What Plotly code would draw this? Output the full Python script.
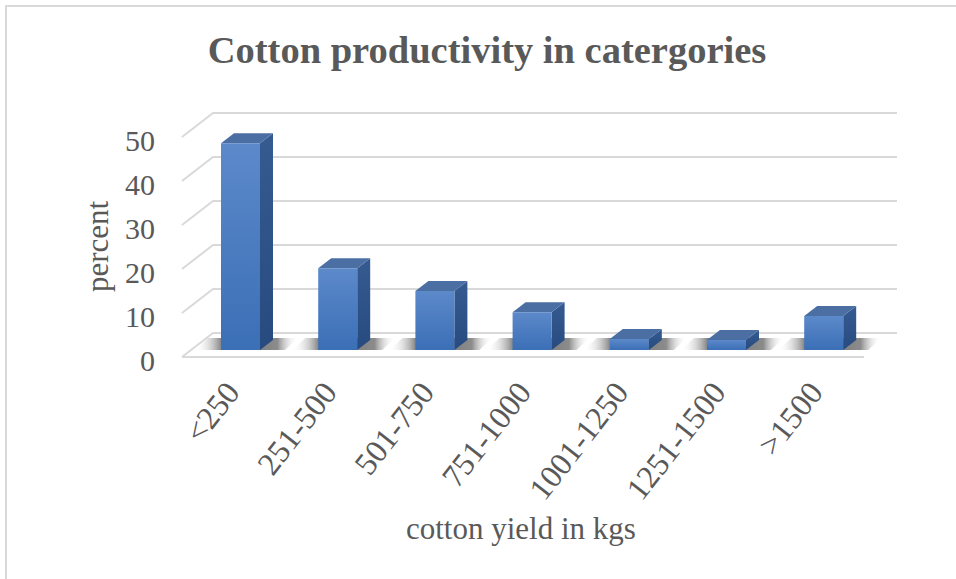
import plotly.graph_objects as go

# ---- data ----
categories = ["<250", "251-500", "501-750", "751-1000", "1001-1250", "1251-1500", ">1500"]
percent = [47.0, 18.6, 13.4, 8.6, 2.5, 2.3, 7.7]
y_ticks = [0, 10, 20, 30, 40, 50]

# ---- page geometry (pixels) ----
W, H = 956, 579
PLOT_L, PLOT_R, PLOT_T, PLOT_B = 175, 905, 100, 365
ZERO_PX = 350          # pixel row of value 0 on the bar plane
PX_PER_UNIT = 4.4      # vertical pixels per percent
X0_PX = 240.5          # pixel column of the first category
PX_PER_CAT = 97.2      # pixels between categories

def dx(px):
    return px / PX_PER_CAT

def dy(px):
    return px / PX_PER_UNIT

x_range = [(PLOT_L - X0_PX) / PX_PER_CAT, (PLOT_R - X0_PX) / PX_PER_CAT]
y_range = [-(PLOT_B - ZERO_PX) / PX_PER_UNIT, (ZERO_PX - PLOT_T) / PX_PER_UNIT]

BAR_W = dx(39)                         # front face width
DEPTH_X, DEPTH_Y = dx(13), dy(10)      # bar depth (oblique projection)
WALL_X, WALL_Y = dx(22), dy(17)        # bar plane -> back wall
FRONT_X, FRONT_Y = dx(-9), dy(-7)      # bar plane -> floor front edge
WALL_LEFT, WALL_RIGHT = dx(213 - X0_PX), dx(897 - X0_PX)
FLOOR_RIGHT = dx(864 - X0_PX)

GRID = "#d9d9d9"
TEXT = "#595959"
FONT = "Liberation Serif, Times New Roman, serif"

fig = go.Figure()

def poly(xs, ys, **kw):
    fig.add_trace(go.Scatter(x=xs + [xs[0]], y=ys + [ys[0]], mode="lines",
                             fill="toself", line=dict(width=0),
                             hoverinfo="skip", showlegend=False, **kw))

def line(xs, ys, width=2):
    fig.add_trace(go.Scatter(x=xs, y=ys, mode="lines",
                             line=dict(color=GRID, width=width),
                             hoverinfo="skip", showlegend=False))

# back-wall gridlines with the oblique side-wall strokes
front_left = WALL_LEFT - WALL_X + FRONT_X
for v in y_ticks:
    line([front_left, WALL_LEFT, WALL_RIGHT],
         [v + FRONT_Y, v + WALL_Y, v + WALL_Y])
# floor front edge
line([front_left, FLOOR_RIGHT], [FRONT_Y, FRONT_Y])

# bars: floor shadow, side face, top face, front face
for i, (cat, v) in enumerate(zip(categories, percent)):
    xl, xr = i - BAR_W / 2, i + BAR_W / 2
    sl, sr = xl - dx(26), xr + DEPTH_X + dx(12)
    poly([sl, sr, sr + DEPTH_X, sl + DEPTH_X], [0, 0, DEPTH_Y + dy(2), DEPTH_Y + dy(2)],
         fillgradient=dict(type="horizontal", colorscale=[
             [0.0, "rgba(255,255,255,0)"],
             [0.28, "rgba(45,45,45,0.7)"],
             [0.8, "rgba(45,45,45,0.55)"],
             [1.0, "rgba(255,255,255,0)"]]))
    # side face
    poly([xr, xr + DEPTH_X, xr + DEPTH_X, xr], [0, DEPTH_Y, v + DEPTH_Y, v],
         fillgradient=dict(type="vertical", start=0, stop=v + DEPTH_Y,
                           colorscale=[[0, "#274b7f"], [1, "#365b91"]]))
    # top face
    poly([xl, xr, xr + DEPTH_X, xl + DEPTH_X], [v, v, v + DEPTH_Y, v + DEPTH_Y],
         fillcolor="#4b6ea3")
    # front face
    fig.add_trace(go.Scatter(
        x=[xl, xr, xr, xl, xl], y=[0, 0, v, v, 0], mode="lines", fill="toself",
        line=dict(width=0), showlegend=False, name=cat,
        hovertemplate=f"{cat}: {v}%<extra></extra>",
        fillgradient=dict(type="vertical", start=0, stop=v,
                          colorscale=[[0, "#3b6fb6"], [1, "#5c89ca"]])))

def px_to_paper_x(px):
    return (px - PLOT_L) / (PLOT_R - PLOT_L)

def px_to_paper_y(py):
    return (PLOT_B - py) / (PLOT_B - PLOT_T)

# chart border
fig.add_shape(type="rect", xref="paper", yref="paper",
              x0=px_to_paper_x(6), x1=px_to_paper_x(W + 10),
              y0=px_to_paper_y(H + 10), y1=px_to_paper_y(6),
              line=dict(color="#d9d9d9", width=2), layer="below")

fig.add_annotation(text="percent", xref="paper", yref="paper",
                   x=px_to_paper_x(97), y=px_to_paper_y(246), textangle=-90,
                   xanchor="center", yanchor="middle",
                   showarrow=False, font=dict(family=FONT, size=31, color=TEXT))
fig.add_annotation(text="cotton yield in kgs", xref="paper", yref="paper",
                   x=px_to_paper_x(521), y=px_to_paper_y(528),
                   xanchor="center", yanchor="middle",
                   showarrow=False, font=dict(family=FONT, size=31, color=TEXT))

fig.update_layout(
    width=W, height=H,
    margin=dict(l=PLOT_L, r=W - PLOT_R, t=PLOT_T, b=H - PLOT_B, autoexpand=False),
    paper_bgcolor="white", plot_bgcolor="white",
    title=dict(text="<b>Cotton productivity in catergories</b>", xref="container",
               yref="container", x=487 / W, y=1 - 50 / H, xanchor="center",
               yanchor="middle", font=dict(family=FONT, size=38.5, color=TEXT)),
    xaxis=dict(range=x_range, tickmode="array", tickvals=list(range(len(categories))),
               ticktext=categories, tickangle=-52, showgrid=False, zeroline=False,
               showline=False, ticks="", ticklabelstandoff=1, ticklabelshift=-12,
               tickfont=dict(family=FONT, size=32, color=TEXT), fixedrange=True),
    yaxis=dict(range=y_range, tickmode="array", tickvals=y_ticks, showgrid=False,
               zeroline=False, showline=False, ticks="", ticklabelshift=10,
               ticklabelstandoff=19,
               tickfont=dict(family=FONT, size=30, color=TEXT), fixedrange=True),
    showlegend=False,
)

fig.write_html("out.html")
